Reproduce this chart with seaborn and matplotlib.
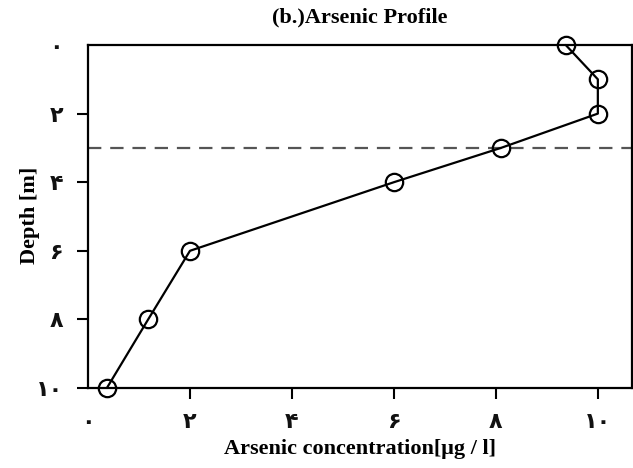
import matplotlib
matplotlib.use("Agg")
import matplotlib.pyplot as plt
import seaborn as sns
import pandas as pd

# data
depth = [0, 1, 2, 3, 4, 6, 8, 10]
arsenic = [9.37, 10.0, 10.0, 8.1, 6.0, 2.0, 1.18, 0.37]
threshold_depth = 3
x_ticks = [0, 2, 4, 6, 8, 10]
y_ticks = [0, 2, 4, 6, 8, 10]
tick_labels = ["۰", "۲", "۴", "۶", "۸", "۱۰"]
title = "(b.)Arsenic Profile"
xlabel = "Arsenic concentration[μg / l]"
ylabel = "Depth [m]"

sns.set_style("ticks")
plt.rcParams['font.family'] = ['Liberation Serif', 'DejaVu Sans']
plt.rcParams['text.color'] = 'black'
plt.rcParams['axes.labelcolor'] = 'black'
plt.rcParams['xtick.color'] = 'black'
plt.rcParams['ytick.color'] = 'black'

df = pd.DataFrame({"arsenic": arsenic, "depth": depth})

fig = plt.figure(figsize=(6.33, 4.68), dpi=100)
ax = fig.add_axes([88/633, 1-388/468, 544/633, (388-45)/468])

sns.lineplot(data=df, x="arsenic", y="depth", sort=False, estimator=None,
             color="black", linewidth=1.6, marker="o", markersize=12.5,
             markerfacecolor="none", markeredgecolor="black",
             markeredgewidth=1.6, ax=ax, clip_on=False, zorder=5)
ax.axhline(threshold_depth, color="#555555", linestyle=(0, (6, 4)), linewidth=1.6, zorder=0)

ax.set_xlim(0, 10.67)
ax.set_ylim(10, 0)
ax.set_xticks(x_ticks)
ax.set_yticks(y_ticks)
ax.set_xticklabels(tick_labels, family=['DejaVu Sans'], fontsize=16, fontweight='bold', color='#111111')
ax.set_yticklabels(tick_labels, family=['DejaVu Sans'], fontsize=16, fontweight='bold', color='#111111')
ax.tick_params(axis='both', direction='out', length=8, width=1.5, color='black')
ax.tick_params(axis='x', pad=9)
ax.tick_params(axis='y', pad=10)
ax.xaxis.get_major_ticks()[0].tick1line.set_visible(False)
ax.yaxis.get_major_ticks()[0].tick1line.set_visible(False)

for s in ax.spines.values():
    s.set_linewidth(1.6)
    s.set_color("black")

ax.set_title(title, fontsize=16, fontweight='bold', pad=16, color='black')
ax.set_xlabel(xlabel, fontsize=16, fontweight='bold', color='black')
ax.set_ylabel(ylabel, fontsize=16, fontweight='bold', color='black')
ax.xaxis.set_label_coords(0.5, -0.178)
ax.yaxis.set_label_coords(-0.107, 0.504)
ax.xaxis.label.set_va('center')
ax.yaxis.label.set_va('center')

fig.savefig("out.png", dpi=100)
